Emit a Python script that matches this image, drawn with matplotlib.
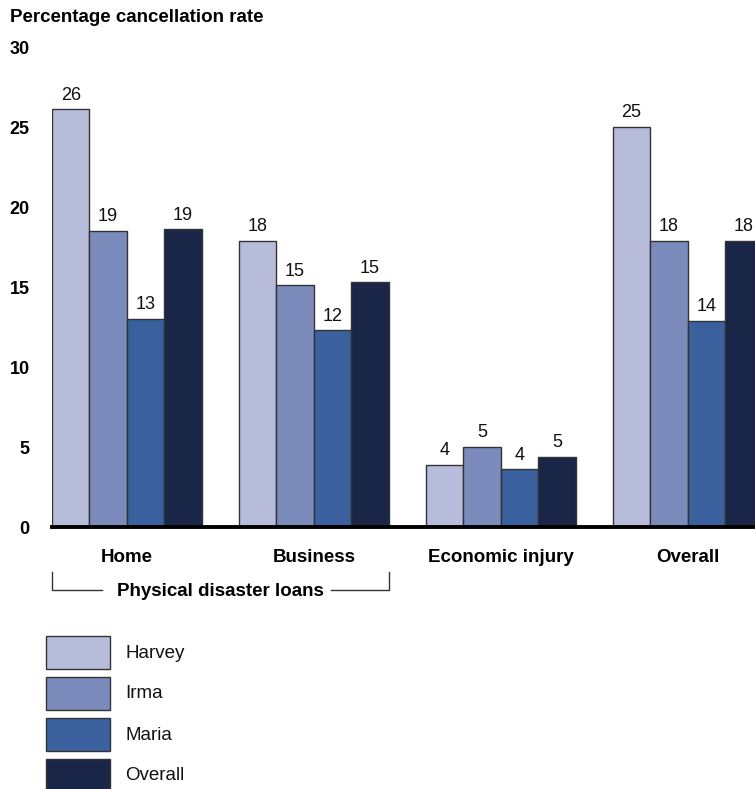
import matplotlib
matplotlib.use("Agg")
import matplotlib.pyplot as plt
import numpy as np
from matplotlib.transforms import blended_transform_factory
from matplotlib.lines import Line2D
from matplotlib.patches import Rectangle

plt.rcParams['font.family'] = ['Liberation Sans', 'DejaVu Sans']

categories = ["Home", "Business", "Economic injury", "Overall"]
series = ["Harvey", "Irma", "Maria", "Overall"]
colors = ["#B8BCDB", "#7A8BBC", "#3A619E", "#1A2647"]
values = {
    "Harvey":  [26.1, 17.9, 3.9, 25.0],
    "Irma":    [18.5, 15.1, 5.0, 17.9],
    "Maria":   [13.0, 12.3, 3.6, 12.9],
    "Overall": [18.6, 15.3, 4.4, 17.9],
}
labels = {
    "Harvey":  ["26", "18", "4", "25"],
    "Irma":    ["19", "15", "5", "18"],
    "Maria":   ["13", "12", "4", "14"],
    "Overall": ["19", "15", "5", "18"],
}
yticks = [0, 5, 10, 15, 20, 25, 30]

W, H = 755, 789
fig = plt.figure(figsize=(W / 100, H / 100), dpi=100)
ax = fig.add_axes([52 / W, (H - 527) / H, 1 - 52 / W, 480 / H])

group_w = 5
for j, s in enumerate(series):
    xs = np.arange(len(categories)) * group_w + j + 0.5
    bars = ax.bar(xs, values[s], width=1.0, color=colors[j], edgecolor="#333333",
                  linewidth=1.0, label=s, zorder=2)
    for b, lab in zip(bars, labels[s]):
        ax.annotate(lab, (b.get_x() + b.get_width() / 2, b.get_height()),
                    xytext=(0, 4), textcoords="offset points", ha="center", va="bottom",
                    fontsize=13, color="#111111")

ax.set_xlim(0, 18.8)
ax.set_ylim(0, 30)
ax.set_yticks(yticks)
ax.set_yticklabels([str(t) for t in yticks], fontsize=13, fontweight="bold")
ax.tick_params(axis="y", length=0, pad=16)
ax.set_xticks([])
for sp in ax.spines.values():
    sp.set_visible(False)
ax.axhline(0, color="black", linewidth=2.8, zorder=3, clip_on=False)

fig.text(10 / W, 1 - 17 / H, "Percentage cancellation rate", fontsize=13.5,
         fontweight="bold", ha="left", va="center")

tr = blended_transform_factory(ax.transData, fig.transFigure)
for i, c in enumerate(categories):
    ax.text(i * group_w + 2, 1 - 557 / H, c, transform=tr, ha="center", va="center",
            fontsize=13.5, fontweight="bold")

# bracket for physical disaster loans
y_top = 1 - 572 / H
y_bot = 1 - 590 / H
lk = dict(color="#333333", linewidth=1.0, transform=tr, clip_on=False)
ax.add_line(Line2D([0, 0, 1.33], [y_top, y_bot, y_bot], **lk))
ax.add_line(Line2D([7.46, 9, 9], [y_bot, y_bot, y_top], **lk))
ax.text(4.5, 1 - 591 / H, "Physical disaster loans", transform=tr, ha="center", va="center",
        fontsize=13.5, fontweight="bold")

# legend
for j, s in enumerate(series):
    top = 636 + 41 * j
    fig.add_artist(Rectangle((46 / W, 1 - (top + 33) / H), 64 / W, 33 / H,
                             transform=fig.transFigure, facecolor=colors[j],
                             edgecolor="#333333", linewidth=1.0))
    fig.text(125 / W, 1 - (top + 17) / H, s, fontsize=13.5, ha="left", va="center",
             color="#111111")

fig.savefig("out.png", dpi=100)
